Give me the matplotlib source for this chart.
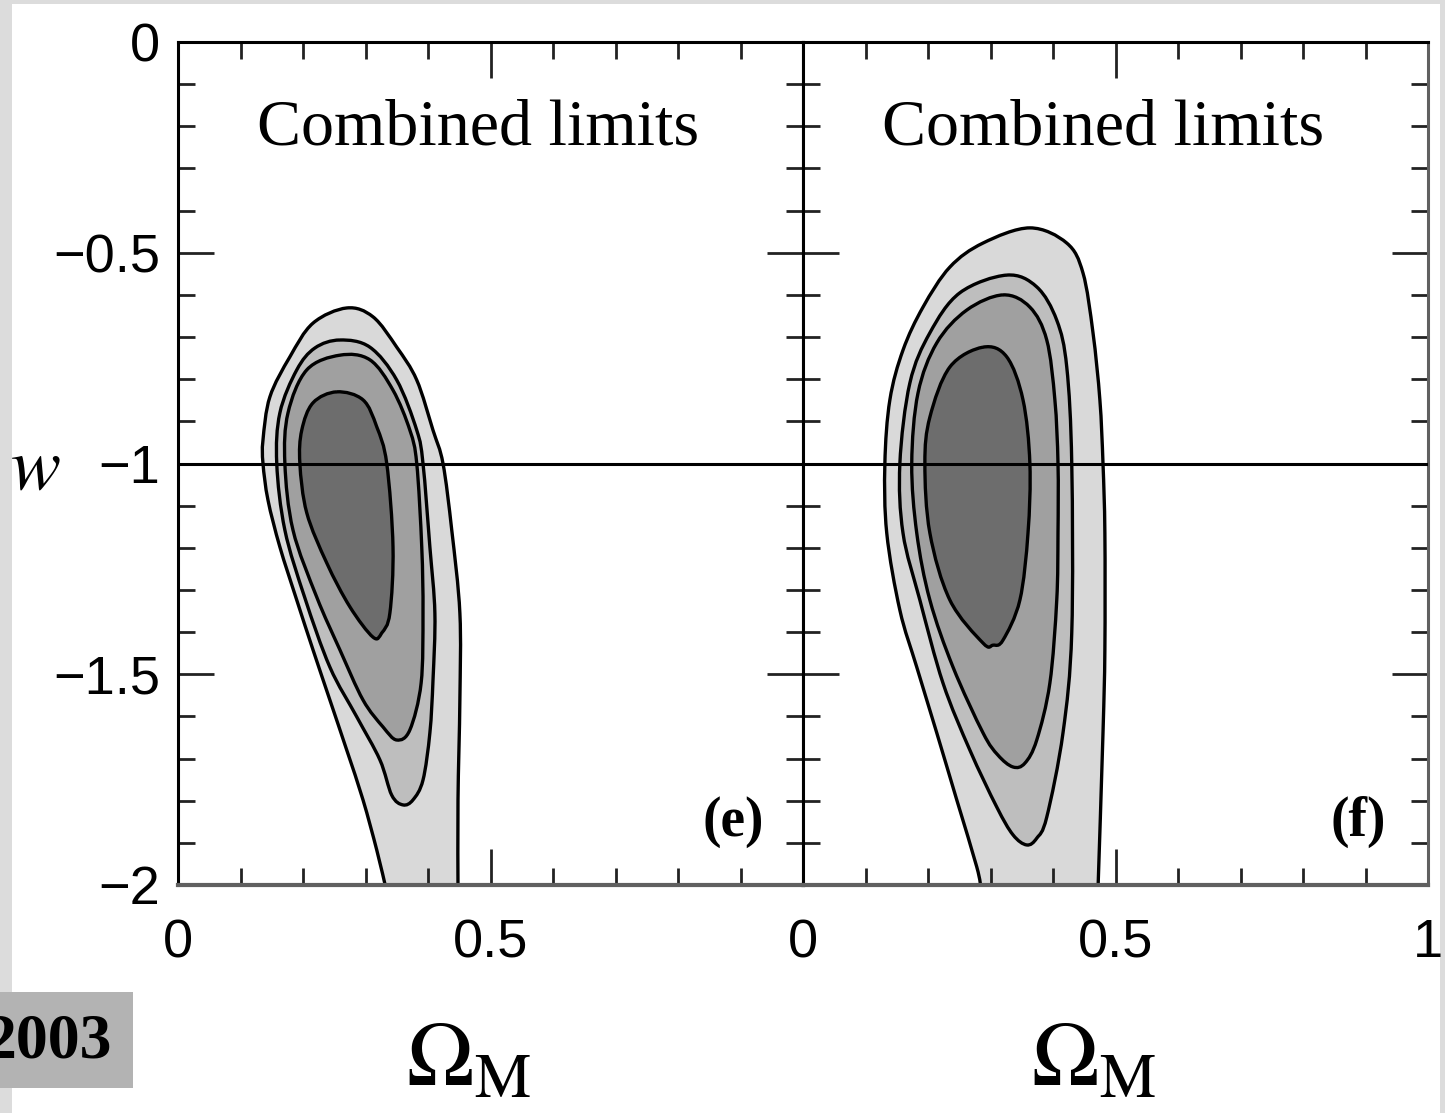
import numpy as np
import matplotlib
matplotlib.use('Agg')
import matplotlib.pyplot as plt
from matplotlib.patches import Rectangle, PathPatch
from matplotlib.path import Path
from matplotlib.ticker import MultipleLocator

plt.rcParams['mathtext.fontset'] = 'stix'

# confidence contours, (Omega_M, w) vertices, outermost first
# panel (e): outer contour is open at the bottom (runs off w = -2)
e_om = [
    [0.333, 0.318, 0.296, 0.270, 0.243, 0.216, 0.190, 0.163, 0.144, 0.136, 0.136, 0.147,
     0.179, 0.216, 0.270, 0.312, 0.350, 0.382, 0.408, 0.424, 0.438, 0.451, 0.451, 0.448, 0.448],
    [0.259, 0.307, 0.350, 0.382, 0.392, 0.403, 0.411, 0.408, 0.403, 0.392, 0.376, 0.360,
     0.342, 0.323, 0.286, 0.243, 0.203, 0.171, 0.158, 0.163, 0.190, 0.219],
    [0.259, 0.307, 0.344, 0.371, 0.382, 0.390, 0.392, 0.389, 0.371, 0.350, 0.328, 0.296,
     0.259, 0.222, 0.184, 0.171, 0.176, 0.206],
    [0.254, 0.296, 0.318, 0.334, 0.344, 0.339, 0.326, 0.312, 0.275, 0.238, 0.206, 0.195,
     0.198, 0.216],
]
e_w = [
    [-2.01, -1.917, -1.798, -1.680, -1.561, -1.442, -1.324, -1.198, -1.087, -1.000, -0.944, -0.842,
     -0.747, -0.667, -0.631, -0.652, -0.724, -0.802, -0.921, -1.000, -1.158, -1.355, -1.561, -1.798, -2.01],
    [-0.707, -0.724, -0.802, -0.921, -1.000, -1.198, -1.355, -1.514, -1.639, -1.751, -1.798, -1.810,
     -1.787, -1.703, -1.601, -1.483, -1.319, -1.158, -1.000, -0.880, -0.778, -0.726],
    [-0.743, -0.754, -0.826, -0.921, -1.000, -1.198, -1.355, -1.521, -1.632, -1.656, -1.625, -1.561,
     -1.442, -1.317, -1.158, -1.000, -0.880, -0.778],
    [-0.830, -0.849, -0.913, -1.000, -1.198, -1.355, -1.402, -1.412, -1.340, -1.236, -1.117, -1.000,
     -0.921, -0.856],
]

# panel (f)
f_om = [
    [0.285, 0.278, 0.246, 0.214, 0.182, 0.155, 0.134, 0.131, 0.139, 0.160, 0.192, 0.235,
     0.288, 0.363, 0.422, 0.448, 0.464, 0.475, 0.480, 0.483, 0.483, 0.480, 0.472],
    [0.326, 0.374, 0.406, 0.422, 0.430, 0.430, 0.416, 0.390, 0.374, 0.358, 0.336, 0.310,
     0.267, 0.224, 0.187, 0.160, 0.155, 0.171, 0.203, 0.251],
    [0.320, 0.363, 0.390, 0.403, 0.408, 0.408, 0.406, 0.395, 0.374, 0.355, 0.336, 0.312,
     0.288, 0.240, 0.203, 0.182, 0.174, 0.184, 0.214, 0.262],
    [0.288, 0.326, 0.352, 0.363, 0.360, 0.347, 0.320, 0.304, 0.288, 0.235, 0.203, 0.195,
     0.203, 0.235],
]
f_w = [
    [-2.01, -1.957, -1.798, -1.639, -1.483, -1.348, -1.165, -1.000, -0.849, -0.731, -0.629, -0.534,
     -0.477, -0.441, -0.477, -0.548, -0.690, -0.849, -1.000, -1.165, -1.442, -1.639, -2.01],
    [-0.553, -0.581, -0.660, -0.771, -1.000, -1.402, -1.639, -1.839, -1.889, -1.905, -1.881, -1.815,
     -1.680, -1.521, -1.324, -1.165, -1.000, -0.809, -0.690, -0.595],
    [-0.600, -0.629, -0.707, -0.849, -1.000, -1.165, -1.324, -1.521, -1.656, -1.711, -1.720, -1.692,
     -1.639, -1.483, -1.324, -1.165, -1.000, -0.833, -0.714, -0.636],
    [-0.724, -0.747, -0.849, -1.000, -1.165, -1.324, -1.419, -1.431, -1.426, -1.324, -1.165, -1.000,
     -0.890, -0.771],
]

shades = ['#d9d9d9', '#bebebe', '#a0a0a0', '#6d6d6d']
panel_tags = ['(e)', '(f)']
title = 'Combined limits'
y_ticks = [-2, -1.5, -1, -0.5, 0]
y_ticklabels = ['\u22122', '\u22121.5', '\u22121', '\u22120.5', '0']


def curve_through(xs, ys, closed):
    # cubic Bezier path passing through every vertex (Catmull-Rom tangents)
    p = np.column_stack([xs, ys])
    n = len(p)
    if closed:
        ext = np.vstack([p[-1:], p, p[:2]])
        nseg = n
    else:
        ext = np.vstack([p[:1], p, p[-1:]])
        nseg = n - 1
    verts = [ext[1]]
    codes = [Path.MOVETO]
    for i in range(1, nseg + 1):
        p0, p1, p2, p3 = ext[i - 1], ext[i], ext[i + 1], ext[i + 2]
        verts += [p1 + (p2 - p0) / 6, p2 - (p3 - p1) / 6, p2]
        codes += [Path.CURVE4] * 3
    return Path(verts, codes)


fig = plt.figure(figsize=(14.45, 11.13), dpi=100)
fig.patch.set_facecolor('#dcdcdc')
fig.patches.append(Rectangle((12 / 1445, 0), 1428 / 1445, 1109 / 1113,
                             transform=fig.transFigure, facecolor='white',
                             edgecolor='none', zorder=-5))

ax1 = fig.add_axes([178 / 1445, 228 / 1113, 625 / 1445, 843 / 1113])
ax2 = fig.add_axes([803 / 1445, 228 / 1113, 625 / 1445, 843 / 1113])

for ax, oms, ws, tag in [(ax1, e_om, e_w, panel_tags[0]), (ax2, f_om, f_w, panel_tags[1])]:
    paths = [curve_through(om, w, closed=(i > 0)) for i, (om, w) in enumerate(zip(oms, ws))]
    for path, c in zip(paths, shades):
        ax.add_patch(PathPatch(path, facecolor=c, edgecolor='none', zorder=1))
    for path in paths:
        ax.add_patch(PathPatch(path, facecolor='none', edgecolor='k', lw=2.4,
                               zorder=2, joinstyle='round'))
    ax.axhline(-1, color='k', lw=2.2, zorder=3)

    ax.set_xlim(0, 1)
    ax.set_ylim(-2, 0)
    ax.set_xticks([0, 0.5, 1])
    ax.set_yticks(y_ticks)
    ax.set_yticklabels(y_ticklabels)
    ax.xaxis.set_minor_locator(MultipleLocator(0.1))
    ax.yaxis.set_minor_locator(MultipleLocator(0.1))
    ax.tick_params(which='both', direction='in', top=True, right=True,
                   width=2.0, color='#222222')
    ax.tick_params(which='major', length=26)
    ax.tick_params(which='minor', length=12.5)
    ax.tick_params(axis='x', pad=24, labelsize=39)
    ax.tick_params(axis='y', pad=13, labelsize=39)
    for lab in ax.get_xticklabels() + ax.get_yticklabels():
        lab.set_family('Liberation Sans')
    for side in ['top', 'left', 'right']:
        ax.spines[side].set_linewidth(2.2)
    ax.spines['bottom'].set_linewidth(3.0)
    ax.spines['bottom'].set_color('#606060')

    ax.text(0.48, -0.205, title, ha='center', va='center', fontsize=47.5,
            family='Liberation Serif')
    ax.text(0.888, -1.85, tag, ha='center', va='center', fontsize=40,
            family='Liberation Serif', fontweight='bold')
    ax.text(0.465, -0.207, r'$\Omega_{\rm M}$', transform=ax.transAxes,
            ha='center', va='center', fontsize=65)

ax1.set_xticklabels(['0', '0.5', ''])
ax2.set_xticklabels(['0', '0.5', '1'])
ax2.tick_params(axis='y', labelleft=False)
ax2.spines['right'].set_color('#606060')

# y-axis symbol beside the -1 tick
fig.text(35 / 1445, 1 - 468 / 1113, r'$w$', ha='center', va='center', fontsize=54)

# year tag in the lower left corner
fig.patches.append(Rectangle((0, 25 / 1113), 133 / 1445, 96 / 1113,
                             transform=fig.transFigure, facecolor='#b3b3b3',
                             edgecolor='none', zorder=1))
fig.text(112 / 1445, 1 - 1042 / 1113, '2003', ha='right', va='center',
         fontsize=46, family='Liberation Serif', fontweight='bold', zorder=2)

fig.savefig('out.png', dpi=100, facecolor=fig.get_facecolor())
